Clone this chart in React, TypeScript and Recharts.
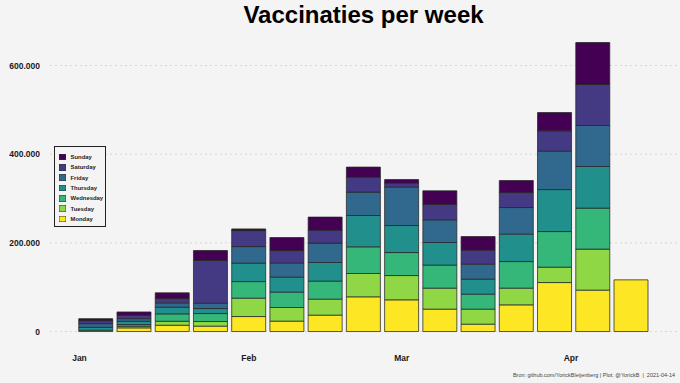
import { Bar, BarChart, CartesianGrid, Legend, XAxis, YAxis } from "recharts";

const WEEK_STARTS = [
  "2021-01-04", "2021-01-11", "2021-01-18", "2021-01-25",
  "2021-02-01", "2021-02-08", "2021-02-15", "2021-02-22",
  "2021-03-01", "2021-03-08", "2021-03-15", "2021-03-22", "2021-03-29",
  "2021-04-05", "2021-04-12",
];

const MONDAY = [0, 8300, 14200, 12200, 33800, 23500, 37000, 78300, 71500, 50500, 16700, 60200, 110500, 93400, 116600];
const TUESDAY = [0, 3600, 9000, 10400, 41500, 30700, 36100, 52600, 54800, 47400, 33800, 37700, 34700, 92500, 0];
const WEDNESDAY = [3000, 3800, 16700, 18000, 37400, 34700, 40600, 60200, 51900, 51900, 33800, 60000, 80300, 92500, 0];
const THURSDAY = [6500, 7400, 14900, 11300, 41500, 33800, 42000, 70600, 60900, 51000, 33800, 61800, 94700, 93800, 0];
const FRIDAY = [8300, 6000, 9900, 12000, 37400, 31600, 43800, 52800, 86600, 51200, 33800, 60000, 86600, 92500, 0];
const SATURDAY = [6800, 7400, 9700, 96300, 36100, 28400, 29300, 33800, 9000, 34500, 31600, 33800, 45800, 92500, 0];
const SUNDAY = [4500, 7700, 12900, 22600, 3800, 29300, 29300, 22600, 8100, 30900, 30700, 27100, 41300, 94700, 0];

const DAY_NAMES = ["Monday", "Tuesday", "Wednesday", "Thursday", "Friday", "Saturday", "Sunday"];
const DAY_VALUES = [MONDAY, TUESDAY, WEDNESDAY, THURSDAY, FRIDAY, SATURDAY, SUNDAY];
const DAY_COLORS = ["#FDE725", "#8FD744", "#35B779", "#21908C", "#31688E", "#443A83", "#440154"];

const MONTH_TICKS = ["2021-01-01", "2021-02-01", "2021-03-01", "2021-04-01"];
const MONTH_LABELS = ["Jan", "Feb", "Mar", "Apr"];
const Y_TICKS = [0, 200000, 400000, 600000];

const BG = "#f4f4f4";
const FONT = "'Liberation Sans', Arial, sans-serif";

function dayOfYear(date: string) {
  return (Date.parse(date) - Date.parse("2021-01-01")) / 86400000;
}

function formatThousands(value: number) {
  return String(value).replace(/\B(?=(\d{3})+(?!\d))/g, ".");
}

const data = WEEK_STARTS.map((week, i) => {
  const row: Record<string, number | string> = { week, day: dayOfYear(week) };
  DAY_NAMES.forEach((name, d) => {
    row[name] = DAY_VALUES[d][i];
  });
  return row;
});

const tickDays = MONTH_TICKS.map(dayOfYear);

function LegendBox() {
  const order = [...DAY_NAMES.keys()].reverse();
  return (
    <div
      style={{
        border: "1.5px solid #222",
        background: BG,
        padding: "5px 6px 2px 4px",
        fontFamily: FONT,
        fontWeight: 700,
        fontSize: 5.9,
        color: "#222",
        width: 40,
      }}
    >
      {order.map((d) => (
        <div key={DAY_NAMES[d]} style={{ display: "flex", alignItems: "center", height: 10.3 }}>
          <span
            style={{
              width: 6.5,
              height: 6.5,
              background: DAY_COLORS[d],
              boxShadow: "inset 0 0 0 0.4px #333",
              marginRight: 5,
              flex: "none",
            }}
          />
          <span style={{ whiteSpace: "nowrap" }}>{DAY_NAMES[d]}</span>
        </div>
      ))}
    </div>
  );
}

export default function App() {
  return (
    <div style={{ position: "fixed", left: 0, top: 0, width: 680, height: 383, background: BG, overflow: "hidden" }}>
      <div
        style={{
          position: "absolute",
          left: 50,
          width: 627,
          top: 3,
          textAlign: "center",
          fontFamily: FONT,
          fontWeight: 700,
          fontSize: 24,
          lineHeight: 1,
          color: "#000",
        }}
      >
        Vaccinaties per week
      </div>
      <BarChart
        width={680}
        height={383}
        data={data}
        barSize={34}
        margin={{ top: 28, right: 3, bottom: 0, left: 0 }}
      >
        <CartesianGrid vertical={false} syncWithTicks stroke="#d6d6d6" strokeDasharray="2 3" />
        <XAxis
          type="number"
          dataKey="day"
          domain={[-5.4, 109.4]}
          allowDataOverflow
          ticks={tickDays}
          interval={0}
          tickFormatter={(v) => MONTH_LABELS[tickDays.indexOf(Number(v))] ?? ""}
          axisLine={false}
          tickLine={false}
          tickMargin={3}
          height={37}
          tick={{ fontSize: 8.5, fontWeight: 700, fill: "#1a1a1a", fontFamily: FONT }}
        />
        <YAxis
          domain={[-32600, 684600]}
          allowDataOverflow
          ticks={Y_TICKS}
          interval={0}
          tickFormatter={(v) => formatThousands(Number(v))}
          axisLine={false}
          tickLine={false}
          tickMargin={4}
          width={50}
          tick={{ fontSize: 8.5, fontWeight: 700, fill: "#1a1a1a", fontFamily: FONT }}
        />
        <Legend
          layout="vertical"
          align="center"
          verticalAlign="middle"
          wrapperStyle={{ left: 54, top: 146, width: "auto" }}
          content={() => <LegendBox />}
        />
        {DAY_NAMES.map((name, d) => (
          <Bar
            key={name}
            dataKey={name}
            stackId="week"
            fill={DAY_COLORS[d]}
            stroke="#262626"
            strokeWidth={0.75}
            isAnimationActive={false}
          />
        ))}
      </BarChart>
      <div
        style={{
          position: "absolute",
          right: 5,
          top: 372,
          fontFamily: FONT,
          fontSize: 5.5,
          color: "#444",
          whiteSpace: "pre",
        }}
      >
        {"Bron: github.com/YorickBleijenberg | Plot: @YorickB  |  2021-04-14"}
      </div>
    </div>
  );
}
